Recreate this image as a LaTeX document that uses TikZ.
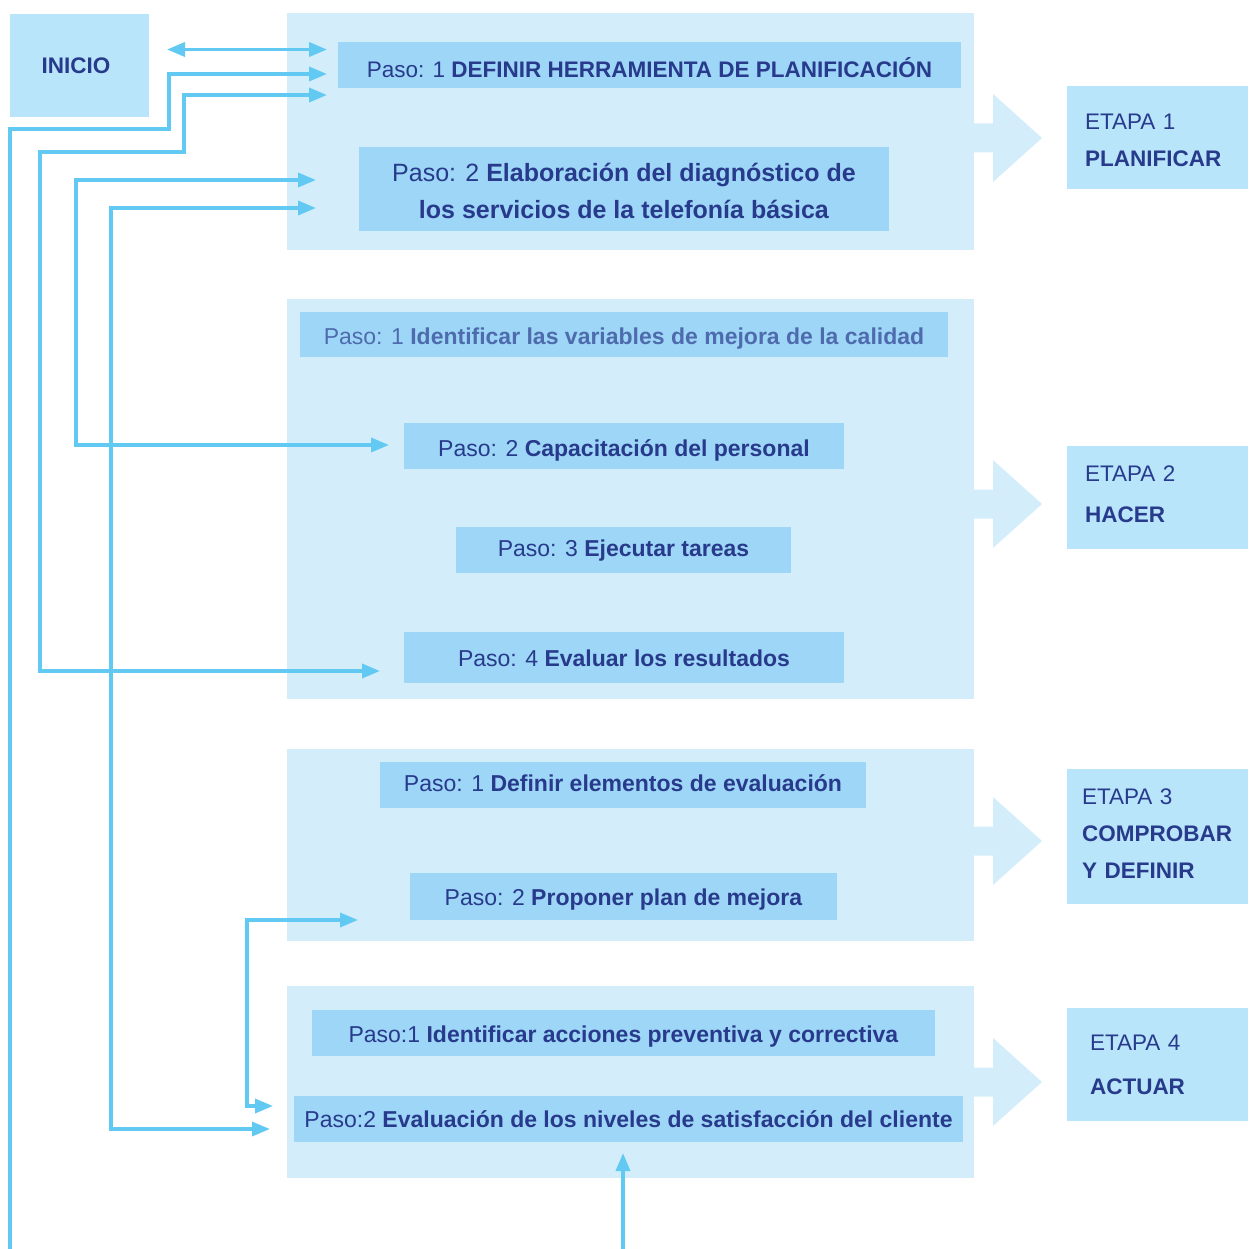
\documentclass[tikz,border=0pt]{standalone}
\usepackage{fontspec}
\setmainfont{Liberation Sans}
\usetikzlibrary{arrows.meta}

\definecolor{panelc}{HTML}{D3EDFA}
\definecolor{stepc}{HTML}{9DD6F6}
\definecolor{etapac}{HTML}{B8E5FA}
\definecolor{linec}{HTML}{62CAF2}
\definecolor{textc}{HTML}{283A8C}
\definecolor{fadedc}{HTML}{4E6BAE}

\tikzset{
  punta/.tip={Triangle[length=18pt,width=14pt]},
  txt/.style={font=\fontsize{22.5}{37}\selectfont, text=textc},
  panel/.style={fill=panelc, inner sep=0, minimum width=687},
  paso/.style={txt, fill=stepc, inner sep=0, align=center, text depth=0pt},
  pasob/.style={paso, font=\fontsize{23}{37}\selectfont},
  etapa/.style={txt, fill=etapac, minimum width=181, inner ysep=0, align=left},
  con/.style={draw=linec, line width=3.5pt}
}

\begin{document}
\begin{tikzpicture}[x=1pt,y=-1pt]
        \useasboundingbox (0,0) rectangle (1248,1249);

        % fases
        \node[panel, minimum height=237] (p1) at (630.5,131.5) {};
        \node[panel, minimum height=400] (p2) at (630.5,499) {};
        \node[panel, minimum height=192] (p3) at (630.5,845) {};
        \node[panel, minimum height=192] (p4) at (630.5,1082) {};

        \foreach \y in {138,504,841,1082}
            \fill[panelc] (974,{\y-14.5}) -- (993,{\y-14.5}) -- (993,{\y-44}) -- (1042,\y)
                -- (993,{\y+44}) -- (993,{\y+14.5}) -- (974,{\y+14.5}) -- cycle;

        \node[txt, fill=etapac, minimum width=139, minimum height=103, font=\fontsize{22.5}{37}\selectfont\bfseries] (ini) at (79.5,65.5) {INICIO\hspace*{7pt}};

        % pasos
        \node[paso, minimum width=623, minimum height=46, text height=26] (s11) at (649.5,65) {Paso: 1 \textbf{DEFINIR HERRAMIENTA DE PLANIFICACIÓN}};
        \node[txt, fill=stepc, inner sep=0, align=center, minimum width=530, minimum height=84, font=\fontsize{25}{37}\selectfont] (s12) at (624,189) {\rule{0pt}{22pt}Paso: 2 \textbf{Elaboración del diagnóstico de}\\\textbf{los servicios de la telefonía básica}};
        \node[pasob, minimum width=648, minimum height=45, text=fadedc, text height=19] (s21) at (624,334.5) {Paso: 1 \textbf{Identificar las variables de mejora de la calidad}};
        \node[pasob, minimum width=440, minimum height=46, text height=21] (s22) at (624,446) {Paso: 2 \textbf{Capacitación del personal}};
        \node[pasob, minimum width=335, minimum height=46, text height=12] (s23) at (623.5,550) {Paso: 3 \textbf{Ejecutar tareas}};
        \node[pasob, minimum width=440, minimum height=51, text height=17] (s24) at (624,657.5) {Paso: 4 \textbf{Evaluar los resultados}};
        \node[pasob, minimum width=486, minimum height=46, text height=13] (s31) at (623,785) {Paso: 1 \textbf{Definir elementos de evaluación}};
        \node[pasob, minimum width=427, minimum height=47, text height=17] (s32) at (623.5,896.5) {Paso: 2 \textbf{Proponer plan de mejora}};
        \node[pasob, minimum width=623, minimum height=46, text height=18] (s41) at (623.5,1033) {Paso:1 \textbf{Identificar acciones preventiva y correctiva}};
        \node[pasob, minimum width=669, minimum height=46, text height=16] (s42) at (628.5,1119) {Paso:2 \textbf{Evaluación de los niveles de satisfacción del cliente}};

        % etapas
        \node[etapa, minimum height=103, inner xsep=18, text width=145] (e1) at (1157.5,137.5) {\rule{0pt}{22pt}ETAPA 1\\\textbf{PLANIFICAR}};
        \node[etapa, minimum height=103, inner xsep=18, text width=145] (e2) at (1157.5,497.5) {ETAPA 2\\[4pt]\textbf{HACER}\rule[-6pt]{0pt}{0pt}};
        \node[etapa, minimum height=135, inner xsep=15, text width=151] (e3) at (1157.5,836.5) {ETAPA 3\\\textbf{COMPROBAR}\\\textbf{Y DEFINIR}\rule[-6pt]{0pt}{0pt}};
        \node[etapa, minimum height=113, inner xsep=23, text width=135] (e4) at (1157.5,1064.5) {ETAPA 4\\[7pt]\textbf{ACTUAR}};

        % extremos de las flechas
        \coordinate (iniR) at (167,49.5);
        \coordinate (s11a) at (327,49.5);
        \coordinate (s11b) at (327,74);
        \coordinate (s11c) at (327,95);
        \coordinate (s12a) at (316,180);
        \coordinate (s12b) at (316,208);
        \coordinate (s22a) at (389,445);
        \coordinate (s24a) at (380,671);
        \coordinate (s32a) at (358,920);
        \coordinate (s42a) at (273,1106);
        \coordinate (s42b) at (270,1129);
        \coordinate (s42c) at (623,1153);
        \coordinate (bajoA) at (10,1249);
        \coordinate (bajoB) at (623,1249);

        \draw[con, punta-punta] (iniR) -- (s11a);
        \draw[con, -punta] (bajoA) |- (169,129) |- (s11b);
        \draw[con, punta-punta] (s11c) -| (184,152) -| (40,671) -- (s24a);
        \draw[con, punta-punta] (s12a) -| (76,445) -- (s22a);
        \draw[con, punta-punta] (s12b) -| (111,1129) -- (s42b);
        \draw[con, punta-punta] (s32a) -| (247,1106) -- (s42a);
        \draw[con, -punta] (bajoB) -- (s42c);
    \end{tikzpicture}
\end{document}
